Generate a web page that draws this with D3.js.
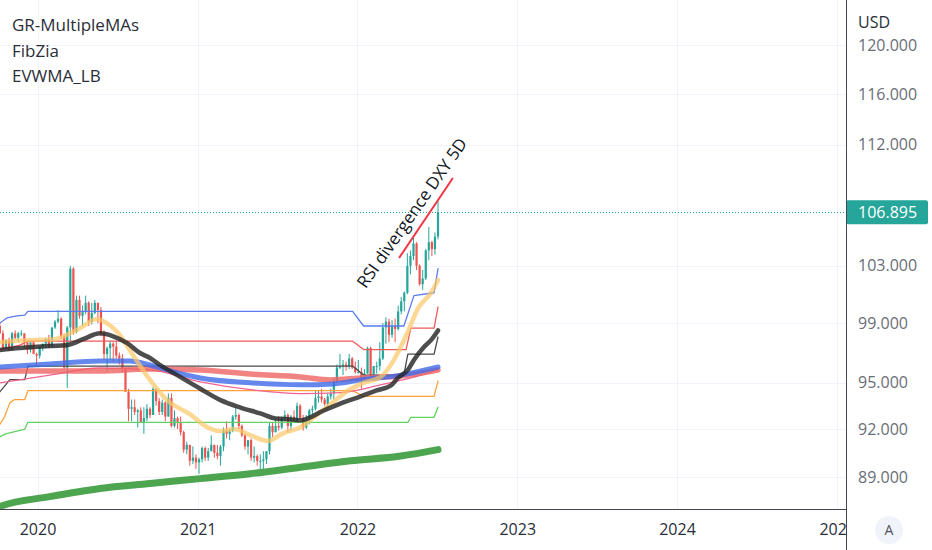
<!DOCTYPE html>
<html>
<head>
<meta charset="utf-8">
<script src="https://cdn.jsdelivr.net/npm/d3@7"></script>
<style>
  html, body { margin: 0; padding: 0; background: #fff; }
  svg { display: block; font-family: "Open Sans", "Noto Sans", sans-serif; }
</style>
</head>
<body>
<svg id="chart" width="932" height="550"></svg>
<script>
(function () {

  "use strict";

  // weekly bars: week start, open, high, low, close
  var candles = [
    ["2019-09-30", 99.1, 99.67, 98.6, 98.8],
    ["2019-10-07", 98.8, 99.1, 98.3, 98.3],
    ["2019-10-14", 98.3, 98.5, 97.2, 97.3],
    ["2019-10-21", 97.3, 97.9, 97.2, 97.8],
    ["2019-10-28", 97.8, 98.0, 97.1, 97.2],
    ["2019-11-04", 97.2, 98.4, 97.2, 98.3],
    ["2019-11-11", 98.3, 98.5, 97.9, 98.0],
    ["2019-11-18", 98.0, 98.4, 97.7, 98.3],
    ["2019-11-25", 98.3, 98.5, 98.1, 98.3],
    ["2019-12-02", 98.3, 98.3, 97.3, 97.7],
    ["2019-12-09", 97.7, 97.8, 96.9, 97.2],
    ["2019-12-16", 97.2, 97.7, 97.0, 97.7],
    ["2019-12-23", 97.7, 97.8, 96.9, 96.9],
    ["2019-12-30", 96.9, 97.0, 96.1, 96.8],
    ["2020-01-06", 96.8, 97.4, 96.6, 97.4],
    ["2020-01-13", 97.4, 97.6, 97.1, 97.6],
    ["2020-01-20", 97.6, 98.0, 97.3, 97.9],
    ["2020-01-27", 97.9, 98.2, 97.3, 97.4],
    ["2020-02-03", 97.4, 98.7, 97.4, 98.7],
    ["2020-02-10", 98.7, 99.2, 98.6, 99.1],
    ["2020-02-17", 99.1, 99.9, 99.0, 99.3],
    ["2020-02-24", 99.3, 99.4, 97.9, 98.1],
    ["2020-03-02", 98.1, 98.2, 95.9, 96.0],
    ["2020-03-09", 96.0, 98.8, 94.65, 98.7],
    ["2020-03-16", 98.7, 103.0, 97.7, 102.8],
    ["2020-03-23", 102.8, 102.9, 98.2, 98.4],
    ["2020-03-30", 98.4, 100.9, 98.3, 100.6],
    ["2020-04-06", 100.6, 100.9, 99.3, 99.5],
    ["2020-04-13", 99.5, 100.2, 98.8, 99.8],
    ["2020-04-20", 99.8, 100.9, 99.6, 100.4],
    ["2020-04-27", 100.4, 100.5, 98.8, 99.1],
    ["2020-05-04", 99.1, 100.4, 98.9, 99.7],
    ["2020-05-11", 99.7, 100.6, 99.6, 100.4],
    ["2020-05-18", 100.4, 100.4, 99.0, 99.9],
    ["2020-05-25", 99.9, 100.1, 98.1, 98.3],
    ["2020-06-01", 98.3, 98.5, 96.5, 96.9],
    ["2020-06-08", 96.9, 97.4, 95.7, 97.3],
    ["2020-06-15", 97.3, 97.8, 96.5, 97.6],
    ["2020-06-22", 97.6, 97.7, 96.4, 97.4],
    ["2020-06-29", 97.4, 97.8, 96.6, 96.8],
    ["2020-07-06", 96.8, 97.0, 96.2, 96.6],
    ["2020-07-13", 96.6, 96.9, 95.7, 95.9],
    ["2020-07-20", 95.9, 96.0, 94.4, 94.4],
    ["2020-07-27", 94.4, 94.6, 92.5, 93.3],
    ["2020-08-03", 93.3, 93.9, 92.5, 93.4],
    ["2020-08-10", 93.4, 93.9, 92.9, 93.1],
    ["2020-08-17", 93.1, 93.3, 92.1, 93.2],
    ["2020-08-24", 93.2, 93.4, 92.4, 92.4],
    ["2020-08-31", 92.4, 93.4, 91.7, 92.7],
    ["2020-09-07", 92.7, 93.6, 92.5, 93.3],
    ["2020-09-14", 93.3, 93.4, 92.7, 92.9],
    ["2020-09-21", 92.9, 94.7, 92.9, 94.6],
    ["2020-09-28", 94.6, 94.6, 93.5, 93.8],
    ["2020-10-05", 93.8, 94.0, 92.9, 93.1],
    ["2020-10-12", 93.1, 93.9, 92.9, 93.7],
    ["2020-10-19", 93.7, 93.8, 92.5, 92.8],
    ["2020-10-26", 92.8, 94.3, 92.8, 94.0],
    ["2020-11-02", 94.0, 94.3, 92.1, 92.2],
    ["2020-11-09", 92.2, 93.2, 92.1, 92.7],
    ["2020-11-16", 92.7, 92.8, 92.0, 92.4],
    ["2020-11-23", 92.4, 92.8, 91.6, 91.8],
    ["2020-11-30", 91.8, 91.9, 90.5, 90.7],
    ["2020-12-07", 90.7, 91.2, 90.4, 91.0],
    ["2020-12-14", 91.0, 91.0, 89.7, 90.0],
    ["2020-12-21", 90.0, 90.9, 89.8, 90.2],
    ["2020-12-28", 90.2, 90.4, 89.5, 89.9],
    ["2021-01-04", 89.9, 90.2, 89.2, 90.1],
    ["2021-01-11", 90.1, 90.9, 89.9, 90.8],
    ["2021-01-18", 90.8, 90.9, 90.0, 90.2],
    ["2021-01-25", 90.2, 90.8, 90.0, 90.6],
    ["2021-02-01", 90.6, 91.6, 90.6, 91.0],
    ["2021-02-08", 91.0, 91.0, 90.2, 90.5],
    ["2021-02-15", 90.5, 91.0, 90.1, 90.3],
    ["2021-02-22", 90.3, 91.0, 89.7, 90.9],
    ["2021-03-01", 90.9, 92.1, 90.6, 91.9],
    ["2021-03-08", 91.9, 92.5, 91.4, 91.7],
    ["2021-03-15", 91.7, 92.0, 91.3, 91.9],
    ["2021-03-22", 91.9, 92.9, 91.8, 92.8],
    ["2021-03-29", 92.8, 93.4, 92.6, 92.9],
    ["2021-04-05", 92.9, 93.0, 92.0, 92.2],
    ["2021-04-12", 92.2, 92.3, 91.5, 91.6],
    ["2021-04-19", 91.6, 91.7, 90.7, 90.9],
    ["2021-04-26", 90.9, 91.3, 90.4, 91.3],
    ["2021-05-03", 91.3, 91.4, 90.0, 90.2],
    ["2021-05-10", 90.2, 90.9, 89.9, 90.3],
    ["2021-05-17", 90.3, 90.4, 89.7, 90.0],
    ["2021-05-24", 90.0, 90.4, 89.5, 90.0],
    ["2021-05-31", 90.0, 90.6, 89.5, 90.1],
    ["2021-06-07", 90.1, 90.6, 89.8, 90.6],
    ["2021-06-14", 90.6, 92.4, 90.4, 92.2],
    ["2021-06-21", 92.2, 92.4, 91.5, 91.8],
    ["2021-06-28", 91.8, 92.7, 91.8, 92.2],
    ["2021-07-05", 92.2, 92.8, 91.9, 92.1],
    ["2021-07-12", 92.1, 92.8, 92.0, 92.7],
    ["2021-07-19", 92.7, 93.2, 92.5, 92.9],
    ["2021-07-26", 92.9, 93.0, 91.8, 92.2],
    ["2021-08-02", 92.2, 92.9, 91.9, 92.8],
    ["2021-08-09", 92.8, 93.2, 92.5, 92.5],
    ["2021-08-16", 92.5, 93.7, 92.5, 93.5],
    ["2021-08-23", 93.5, 93.6, 92.7, 92.7],
    ["2021-08-30", 92.7, 92.9, 91.9, 92.1],
    ["2021-09-06", 92.1, 92.9, 92.0, 92.6],
    ["2021-09-13", 92.6, 93.3, 92.3, 93.2],
    ["2021-09-20", 93.2, 93.5, 92.9, 93.3],
    ["2021-09-27", 93.3, 94.5, 93.2, 94.0],
    ["2021-10-04", 94.0, 94.5, 93.7, 94.1],
    ["2021-10-11", 94.1, 94.6, 93.7, 93.9],
    ["2021-10-18", 93.9, 94.0, 93.5, 93.6],
    ["2021-10-25", 93.6, 94.3, 93.3, 94.1],
    ["2021-11-01", 94.1, 94.6, 93.9, 94.3],
    ["2021-11-08", 94.3, 95.3, 93.9, 95.1],
    ["2021-11-15", 95.1, 96.2, 95.0, 96.0],
    ["2021-11-22", 96.0, 96.9, 95.9, 96.1],
    ["2021-11-29", 96.1, 96.5, 95.5, 96.2],
    ["2021-12-06", 96.2, 96.4, 95.8, 96.1],
    ["2021-12-13", 96.1, 96.9, 95.9, 96.6],
    ["2021-12-20", 96.6, 96.7, 95.9, 96.0],
    ["2021-12-27", 96.0, 96.4, 95.6, 95.7],
    ["2022-01-03", 95.7, 96.5, 95.6, 95.7],
    ["2022-01-10", 95.7, 96.0, 94.6, 95.2],
    ["2022-01-17", 95.2, 95.9, 95.1, 95.6],
    ["2022-01-24", 95.6, 97.4, 95.6, 97.3],
    ["2022-01-31", 97.3, 97.4, 95.2, 95.5],
    ["2022-02-07", 95.5, 96.1, 95.2, 96.1],
    ["2022-02-14", 96.1, 96.4, 95.6, 96.1],
    ["2022-02-21", 96.1, 97.7, 95.8, 96.6],
    ["2022-02-28", 96.6, 99.0, 96.5, 98.7],
    ["2022-03-07", 98.7, 99.4, 97.6, 99.1],
    ["2022-03-14", 99.1, 99.3, 97.7, 98.2],
    ["2022-03-21", 98.2, 99.2, 98.0, 98.8],
    ["2022-03-28", 98.8, 99.3, 97.7, 98.6],
    ["2022-04-04", 98.6, 100.2, 98.5, 99.8],
    ["2022-04-11", 99.8, 100.8, 99.6, 100.5],
    ["2022-04-18", 100.5, 101.2, 99.8, 101.1],
    ["2022-04-25", 101.1, 103.9, 101.0, 103.0],
    ["2022-05-02", 103.0, 104.1, 102.4, 103.7],
    ["2022-05-09", 103.7, 105.0, 103.4, 104.6],
    ["2022-05-16", 104.6, 104.7, 102.7, 103.0],
    ["2022-05-23", 103.0, 103.1, 101.6, 101.7],
    ["2022-05-30", 101.7, 102.7, 101.3, 102.1],
    ["2022-06-06", 102.1, 104.2, 102.0, 104.1],
    ["2022-06-13", 104.1, 105.8, 103.4, 104.7],
    ["2022-06-20", 104.7, 104.8, 103.7, 104.2],
    ["2022-06-27", 104.2, 105.4, 103.8, 105.1],
    ["2022-07-04", 105.1, 107.7, 104.9, 106.895]
  ];

  // FibZia levels (stepped)
  var fibTop = [
    ["2019-10-07", 99.0], ["2019-10-23", 99.35], ["2019-11-15", 99.5], ["2019-12-03", 99.55],
    ["2019-12-10", 99.8], ["2021-12-21", 99.8], ["2022-01-15", 98.8], ["2022-04-17", 98.8],
    ["2022-05-10", 100.9], ["2022-06-25", 101.1], ["2022-07-04", 102.8]
  ];
  var fibUpper = [
    ["2019-10-07", 97.2], ["2019-11-22", 97.5], ["2019-12-10", 97.77], ["2021-12-21", 97.77],
    ["2022-01-15", 97.2], ["2022-04-22", 97.2], ["2022-05-03", 98.65], ["2022-06-25", 98.65],
    ["2022-07-04", 100.1]
  ];
  var fibMid = [
    ["2019-10-07", 94.4], ["2019-10-30", 95.2], ["2019-12-03", 95.2], ["2019-12-10", 96.1],
    ["2021-12-21", 96.1], ["2022-01-15", 95.5], ["2022-04-17", 95.5], ["2022-04-26", 96.9],
    ["2022-06-25", 96.9], ["2022-07-04", 98.05]
  ];
  var fibLower = [
    ["2019-10-07", 92.3], ["2019-10-18", 92.8], ["2019-10-30", 93.7], ["2019-11-10", 93.9],
    ["2019-12-03", 93.9], ["2019-12-10", 94.48], ["2021-12-21", 94.48], ["2022-01-15", 94.1],
    ["2022-06-25", 94.1], ["2022-07-04", 95.1]
  ];
  var fibBottom = [
    ["2019-10-07", 91.5], ["2019-10-18", 91.68], ["2019-11-15", 91.87], ["2019-12-03", 92.0],
    ["2019-12-10", 92.43], ["2022-04-26", 92.43], ["2022-05-03", 92.75], ["2022-06-25", 92.75],
    ["2022-07-04", 93.4]
  ];

  // GR-MultipleMAs / EVWMA lines
  var maFast = [
    ["2019-10-07", 97.7], ["2019-12-21", 97.84], ["2020-02-10", 97.9], ["2020-03-08", 98.2],
    ["2020-04-07", 98.65], ["2020-05-16", 99.28], ["2020-06-03", 99.07], ["2020-07-01", 98.4],
    ["2020-08-06", 96.84], ["2020-09-14", 95.18], ["2020-10-23", 93.86], ["2020-12-15", 92.94],
    ["2021-01-23", 92.12], ["2021-02-22", 91.87], ["2021-03-24", 92.0], ["2021-05-01", 91.62],
    ["2021-06-09", 91.25], ["2021-07-16", 91.74], ["2021-08-24", 92.12], ["2021-09-23", 92.75],
    ["2021-11-08", 93.77], ["2021-12-10", 94.48], ["2022-01-15", 94.99], ["2022-02-23", 95.38],
    ["2022-03-25", 96.5], ["2022-04-26", 98.4], ["2022-05-19", 100.0], ["2022-06-18", 101.1],
    ["2022-07-04", 102.0]
  ];
  var maMid = [
    ["2019-10-07", 97.17], ["2019-11-22", 97.3], ["2020-01-29", 97.44], ["2020-03-08", 97.5],
    ["2020-04-14", 97.9], ["2020-05-23", 98.3], ["2020-06-22", 98.1], ["2020-07-24", 97.64],
    ["2020-08-22", 96.97], ["2020-09-14", 96.64], ["2020-10-07", 96.17], ["2020-11-22", 95.38],
    ["2021-01-07", 94.6], ["2021-02-22", 93.86], ["2021-04-09", 93.38], ["2021-05-24", 93.0],
    ["2021-06-27", 92.68], ["2021-08-01", 92.62], ["2021-08-24", 92.56], ["2021-10-16", 93.19],
    ["2021-12-05", 93.77], ["2022-01-01", 94.03], ["2022-02-12", 94.48], ["2022-03-18", 94.8],
    ["2022-04-03", 95.31], ["2022-04-26", 95.84], ["2022-05-10", 96.5], ["2022-06-02", 97.37],
    ["2022-06-18", 97.84], ["2022-07-04", 98.5]
  ];
  var maBlue = [
    ["2019-10-07", 96.04], ["2020-01-29", 96.24], ["2020-05-23", 96.44], ["2020-07-31", 96.44],
    ["2020-09-14", 96.17], ["2020-11-10", 95.7], ["2021-01-07", 95.31], ["2021-05-01", 94.99],
    ["2021-08-24", 94.86], ["2021-11-08", 94.92], ["2022-01-08", 95.18], ["2022-04-10", 95.5],
    ["2022-07-04", 96.04]
  ];
  var maRed = [
    ["2019-10-07", 95.77], ["2020-05-23", 95.77], ["2020-09-14", 95.9], ["2021-01-07", 95.84],
    ["2021-05-01", 95.57], ["2021-08-24", 95.38], ["2021-11-01", 95.18], ["2022-01-08", 95.31],
    ["2022-04-10", 95.44], ["2022-07-04", 95.84]
  ];
  var maPink = [
    ["2019-10-07", 94.99], ["2020-01-29", 95.5], ["2020-05-23", 95.97], ["2020-09-14", 95.84],
    ["2021-01-07", 95.05], ["2021-05-01", 94.54], ["2021-08-24", 94.29], ["2021-11-24", 94.35],
    ["2022-02-23", 94.86], ["2022-05-03", 95.31], ["2022-07-04", 95.84]
  ];
  var maLong = [
    ["2019-09-30", 87.1], ["2019-10-07", 87.2], ["2020-01-29", 87.8], ["2020-05-23", 88.3],
    ["2020-09-14", 88.6], ["2021-01-07", 88.9], ["2021-05-01", 89.2], ["2021-08-24", 89.6],
    ["2021-12-16", 90.0], ["2022-04-10", 90.3], ["2022-07-04", 90.7]
  ];

  // drawing: trend line and its label
  var trendLine = [["2022-04-06", 103.56], ["2022-08-07", 109.45]];
  var noteAnchor = ["2022-01-20", 101.35];
  var noteText = "RSI divergence DXY 5D";

  var legendNames = ["GR-MultipleMAs", "FibZia", "EVWMA_LB"];
  var yearTicks = ["2020", "2021", "2022", "2023", "2024", "2025"];
  var priceTicks = [120, 116, 112, 103, 99, 95, 92, 89];
  var lastPrice = 106.895;
  var currency = "USD";

  /**
   * Default options
   */
  var options = {
    width: 932,
    height: 550,
    paneRight: 846,
    paneBottom: 509,
    up: "#26a69a",
    down: "#ef5350",
    grid: "#f0f3fa",
    border: "#434651"
  };

  var parse = d3.utcParse("%Y-%m-%d");
  var svg = d3.select("#chart");

  var x = d3.scaleUtc()
    .domain([parse("2020-01-01"), parse("2024-01-01")])
    .range([37.5, 677]);
  var y = d3.scaleLog()
    .domain([89, 120])
    .range([477, 45]);

  // styles for the indicator lines, drawn in this order
  var series = [
    {data: fibTop, color: "#5b7cf0", width: 1.3, curve: d3.curveLinear},
    {data: fibUpper, color: "#f05b5b", width: 1.3, curve: d3.curveLinear},
    {data: fibMid, color: "#4a4a4a", width: 1.3, curve: d3.curveLinear},
    {data: fibLower, color: "#ffa23c", width: 1.3, curve: d3.curveLinear},
    {data: fibBottom, color: "#5fd35f", width: 1.3, curve: d3.curveLinear},
    {data: maLong, color: "#43a047", width: 7, opacity: 0.95, curve: d3.curveMonotoneX},
    {data: maPink, color: "#f2638f", width: 1.3, curve: d3.curveMonotoneX},
    {data: maRed, color: "#ef6464", width: 5.5, opacity: 0.8, curve: d3.curveMonotoneX},
    {data: maBlue, color: "#3e6ae8", width: 5, opacity: 0.8, curve: d3.curveMonotoneX},
    {data: maFast, color: "#fcc866", width: 4.5, opacity: 0.7, curve: d3.curveMonotoneX},
    {data: maMid, color: "#262626", width: 4.5, opacity: 0.82, curve: d3.curveMonotoneX}
  ];

  svg.append("rect").attr("width", options.width).attr("height", options.height).attr("fill", "#fff");

  svg.append("clipPath").attr("id", "pane-clip")
    .append("rect").attr("width", options.paneRight).attr("height", options.paneBottom);

  var pane = svg.append("g").attr("clip-path", "url(#pane-clip)");

  drawGrid(pane);
  drawCandles(pane);
  drawSeries(pane);
  drawPriceLine(pane);
  drawNote(pane);
  drawLegend();
  drawTimeAxis();
  drawPriceAxis();

  function drawGrid(g) {
    g.append("g").selectAll("line").data(priceTicks).join("line")
      .attr("x1", 0).attr("x2", options.paneRight)
      .attr("y1", function (d) { return Math.round(y(d)) + 0.5; })
      .attr("y2", function (d) { return Math.round(y(d)) + 0.5; })
      .attr("stroke", options.grid);
    g.append("g").selectAll("line").data(yearTicks).join("line")
      .attr("x1", function (d) { return Math.round(x(parse(d + "-01-01"))) + 0.5; })
      .attr("x2", function (d) { return Math.round(x(parse(d + "-01-01"))) + 0.5; })
      .attr("y1", 0).attr("y2", options.paneBottom)
      .attr("stroke", options.grid);
  }

  function drawCandles(g) {
    var step = x(parse("2020-01-13")) - x(parse("2020-01-06"));
    var body = Math.max(1.5, step * 0.72);
    var bars = g.append("g").selectAll("g").data(candles).join("g");

    bars.append("line")
      .attr("x1", function (d) { return x(parse(d[0])); })
      .attr("x2", function (d) { return x(parse(d[0])); })
      .attr("y1", function (d) { return y(d[2]); })
      .attr("y2", function (d) { return y(d[3]); })
      .attr("stroke", colorOf)
      .attr("stroke-width", 1);

    bars.append("rect")
      .attr("x", function (d) { return x(parse(d[0])) - body / 2; })
      .attr("width", body)
      .attr("y", function (d) { return y(Math.max(d[1], d[4])); })
      .attr("height", function (d) { return Math.max(1, Math.abs(y(d[1]) - y(d[4]))); })
      .attr("fill", colorOf);
  }

  function colorOf(d) {
    return d[4] >= d[1] ? options.up : options.down;
  }

  function drawSeries(g) {
    series.forEach(function (s) {
      var line = d3.line()
        .x(function (d) { return x(parse(d[0])); })
        .y(function (d) { return y(d[1]); })
        .curve(s.curve);
      g.append("path")
        .datum(s.data)
        .attr("d", line)
        .attr("fill", "none")
        .attr("stroke", s.color)
        .attr("stroke-width", s.width)
        .attr("stroke-opacity", s.opacity || 1)
        .attr("stroke-linejoin", "round")
        .attr("stroke-linecap", "round");
    });
  }

  function drawPriceLine(g) {
    var py = Math.round(y(lastPrice)) + 0.5;
    g.append("line")
      .attr("x1", 0).attr("x2", options.paneRight)
      .attr("y1", py).attr("y2", py)
      .attr("stroke", options.up)
      .attr("stroke-width", 1)
      .attr("stroke-dasharray", "1,2");
  }

  function drawNote(g) {
    g.append("line")
      .attr("x1", x(parse(trendLine[0][0]))).attr("y1", y(trendLine[0][1]))
      .attr("x2", x(parse(trendLine[1][0]))).attr("y2", y(trendLine[1][1]))
      .attr("stroke", "#f23645")
      .attr("stroke-width", 2);

    g.append("text")
      .attr("transform", "translate(" + x(parse(noteAnchor[0])) + "," + y(noteAnchor[1]) + ") rotate(-55)")
      .attr("font-size", 17)
      .attr("fill", "#131722")
      .text(noteText);
  }

  function drawLegend() {
    svg.append("g").selectAll("text").data(legendNames).join("text")
      .attr("x", 12)
      .attr("y", function (d, i) { return 31 + i * 25.5; })
      .attr("font-size", 17)
      .attr("fill", "#2a2e39")
      .text(function (d) { return d; });
  }

  function drawTimeAxis() {
    var axis = d3.axisBottom(x)
      .tickValues(yearTicks.map(function (d) { return parse(d + "-01-01"); }))
      .tickFormat(d3.utcFormat("%Y"))
      .tickSize(0)
      .tickPadding(15);
    var g = svg.append("g")
      .attr("transform", "translate(0," + options.paneBottom + ")")
      .call(axis);
    g.select(".domain").remove();
    g.selectAll("text")
      .attr("font-size", 16)
      .attr("font-family", "'Open Sans', sans-serif")
      .attr("fill", "#2a2e39");
  }

  function drawPriceAxis() {
    var right = options.paneRight;

    svg.append("rect")
      .attr("x", right).attr("y", 0)
      .attr("width", options.width - right).attr("height", options.height)
      .attr("fill", "#fff");

    var axis = d3.axisRight(y)
      .tickValues(priceTicks)
      .tickFormat(d3.format(".3f"))
      .tickSize(0)
      .tickPadding(12);
    var g = svg.append("g")
      .attr("transform", "translate(" + right + ",0)")
      .call(axis);
    g.select(".domain").remove();
    g.selectAll("text")
      .attr("font-size", 16)
      .attr("font-family", "'Open Sans', sans-serif")
      .attr("fill", "#6a6d78");

    svg.append("text")
      .attr("x", right + 12).attr("y", 28)
      .attr("font-size", 16)
      .attr("fill", "#2a2e39")
      .text(currency);

    // last price tag
    var py = y(lastPrice);
    svg.append("rect")
      .attr("x", right).attr("y", py - 12)
      .attr("width", 82).attr("height", 24)
      .attr("rx", 2)
      .attr("fill", options.up);
    svg.append("text")
      .attr("x", right + 12).attr("y", py)
      .attr("dy", "0.35em")
      .attr("font-size", 16)
      .attr("fill", "#fff")
      .text(d3.format(".3f")(lastPrice));

    // pane borders
    svg.append("line")
      .attr("x1", right + 0.5).attr("x2", right + 0.5)
      .attr("y1", 0).attr("y2", options.height)
      .attr("stroke", options.border);
    svg.append("line")
      .attr("x1", 0).attr("x2", right)
      .attr("y1", options.paneBottom + 0.5).attr("y2", options.paneBottom + 0.5)
      .attr("stroke", options.border);

    // auto-scale button
    svg.append("circle")
      .attr("cx", 889).attr("cy", 530).attr("r", 14)
      .attr("fill", "#f0f3fa");
    svg.append("text")
      .attr("x", 889).attr("y", 530)
      .attr("dy", "0.35em")
      .attr("text-anchor", "middle")
      .attr("font-size", 14)
      .attr("fill", "#50535e")
      .text("A");
  }

}());
</script>
</body>
</html>
